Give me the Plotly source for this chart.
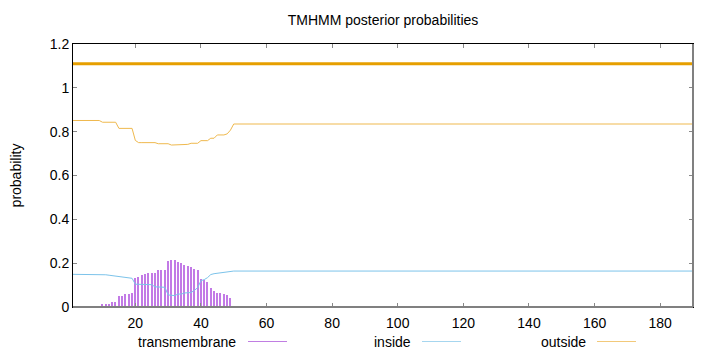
import plotly.graph_objects as go

# ---- data ----
residues_tm = list(range(10, 50))
transmembrane = [0.012, 0.012, 0.015, 0.023, 0.023, 0.049, 0.049, 0.061, 0.061, 0.065,
                 0.131, 0.137, 0.146, 0.150, 0.153, 0.153, 0.153, 0.167, 0.169, 0.169,
                 0.210, 0.213, 0.213, 0.204, 0.201, 0.192, 0.187, 0.184, 0.173, 0.169,
                 0.128, 0.123, 0.113, 0.085, 0.075, 0.062, 0.062, 0.060, 0.055, 0.043]

residues = list(range(1, 51)) + [190]
inside = [0.149] * 9 + [0.148, 0.147, 0.145, 0.143, 0.141, 0.139, 0.137, 0.135, 0.133, 0.131,
                        0.104, 0.104, 0.104, 0.103, 0.103, 0.102, 0.092, 0.091, 0.091, 0.090,
                        0.055, 0.052, 0.052, 0.059, 0.059, 0.064, 0.066, 0.066, 0.076, 0.088,
                        0.120, 0.125, 0.134, 0.148, 0.152, 0.154, 0.155, 0.156, 0.158, 0.162,
                        0.164, 0.164]
outside = [0.851] * 9 + [0.843] * 5 + [0.815] * 5 + [0.760] + [0.750] * 6 + [0.745] * 4 + \
          [0.739] * 5 + [0.742] + [0.747] * 3 + [0.759] * 3 + [0.770] * 2 + [0.785] * 3 + \
          [0.790, 0.807, 0.835, 0.835]

topology_x = [1, 190]
topology_y = [1.11, 1.11]

legend_names = ["transmembrane", "inside", "outside"]
legend_colors = ["#c07ee2", "#a6d6ef", "#f2c97a"]

x_ticks = [20, 40, 60, 80, 100, 120, 140, 160, 180]
y_ticks = [0, 0.2, 0.4, 0.6, 0.8, 1, 1.2]

FONT = "Liberation Sans, Arial, sans-serif"

fig = go.Figure()

fig.add_trace(go.Bar(x=residues_tm, y=transmembrane, width=0.4,
                     marker=dict(color="#c27ae6", line=dict(width=0)),
                     showlegend=False))
fig.add_trace(go.Scatter(x=residues, y=inside, mode="lines",
                         line=dict(color="#7cc3ea", width=1), showlegend=False))
fig.add_trace(go.Scatter(x=residues, y=outside, mode="lines",
                         line=dict(color="#efb94e", width=1), showlegend=False))
fig.add_trace(go.Scatter(x=topology_x, y=topology_y, mode="lines",
                         line=dict(color="#e69f00", width=3), showlegend=False))

fig.update_layout(
    width=720, height=352,
    margin=dict(l=73, r=27, t=44, b=45),
    paper_bgcolor="white", plot_bgcolor="white",
    font=dict(family=FONT, size=15, color="black"),
    title=dict(text="TMHMM posterior probabilities", x=383 / 720, xanchor="center",
               y=1 - 20 / 352, yanchor="middle", font=dict(size=14)),
    bargap=0,
    xaxis=dict(range=[1, 190], tickvals=x_ticks, ticks="inside", ticklen=4,
               tickcolor="#888888", showgrid=False, zeroline=False,
               showline=True, linecolor="black", linewidth=1, mirror="ticks",
               tickfont=dict(size=14), ticklabelstandoff=3),
    yaxis=dict(range=[0, 1.2], tickvals=y_ticks, ticks="inside", ticklen=4,
               tickcolor="#888888", showgrid=False, zeroline=False,
               showline=True, linecolor="black", linewidth=1, mirror="ticks",
               tickfont=dict(size=14),
               title=dict(text="probability", font=dict(size=14), standoff=24)),
)

# gray bottom/right border like the reference
fig.add_shape(type="line", xref="x domain", yref="y domain", x0=0, x1=1, y0=0, y1=0,
              line=dict(color="#808080", width=2))
fig.add_shape(type="line", xref="x domain", yref="y domain", x0=1, x1=1, y0=0, y1=1,
              line=dict(color="#808080", width=2))

# gnuplot-style legend: text then line sample
legend_text_right = [238, 413, 588]
legend_line_x = [(248, 287), (422, 461), (597, 636)]
legend_y = (307 - 341.5) / 263
for name, col, xr, (lx0, lx1) in zip(legend_names, legend_colors, legend_text_right, legend_line_x):
    fig.add_annotation(text=name, xref="paper", yref="paper",
                       x=(xr - 73) / 620, y=legend_y, xanchor="right", yanchor="middle",
                       showarrow=False, font=dict(size=14))
    fig.add_shape(type="line", xref="paper", yref="paper",
                  x0=(lx0 - 73) / 620, x1=(lx1 - 73) / 620, y0=legend_y, y1=legend_y,
                  line=dict(color=col, width=1))

fig.write_html("out.html")
